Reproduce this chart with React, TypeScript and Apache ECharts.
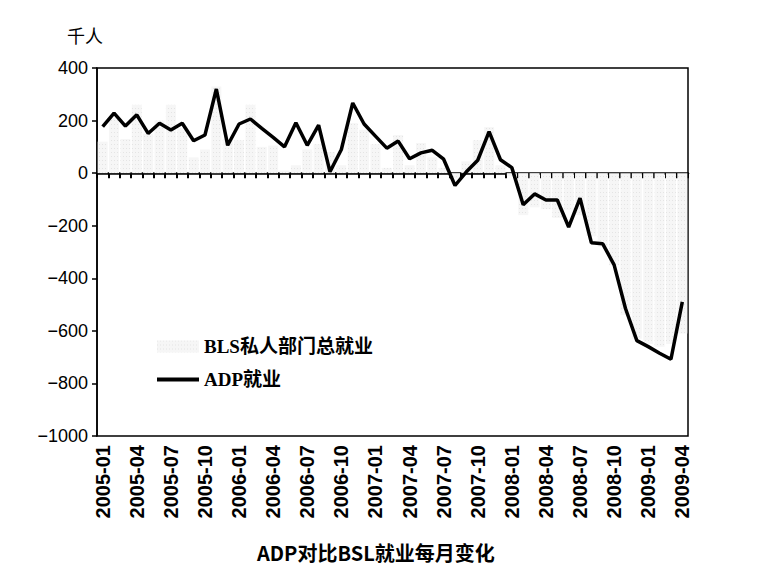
import { useEffect, useRef } from 'react';
import * as echarts from 'echarts';

const months = [
  '2005-01', '2005-02', '2005-03', '2005-04', '2005-05', '2005-06', '2005-07', '2005-08', '2005-09', '2005-10', '2005-11', '2005-12',
  '2006-01', '2006-02', '2006-03', '2006-04', '2006-05', '2006-06', '2006-07', '2006-08', '2006-09', '2006-10', '2006-11', '2006-12',
  '2007-01', '2007-02', '2007-03', '2007-04', '2007-05', '2007-06', '2007-07', '2007-08', '2007-09', '2007-10', '2007-11', '2007-12',
  '2008-01', '2008-02', '2008-03', '2008-04', '2008-05', '2008-06', '2008-07', '2008-08', '2008-09', '2008-10', '2008-11', '2008-12',
  '2009-01', '2009-02', '2009-03', '2009-04',
];

const blsPrivate = [
  120, 210, 130, 260, 150, 200, 260, 170, 60, 90, 330, 130,
  125, 260, 100, 105, 10, 30, 90, 110, 80, 30, 190, 165,
  110, 20, 145, 30, 115, 60, 20, -20, 45, 125, 175, 30,
  -10, -160, -130, -137, -170, -140, -160, -240, -280, -350, -540, -630,
  -650, -660, -650, -610,
];

const adpEmployment = [
  177, 228, 179, 222, 151, 190, 164, 190, 123, 145, 320, 106,
  187, 206, 170, 136, 100, 192, 106, 183, 5, 90, 267, 187,
  141, 95, 122, 55, 77, 87, 53, -47, 5, 49, 158, 51,
  21, -120, -79, -102, -102, -205, -95, -265, -269, -349, -515, -637,
  -660, -685, -708, -490,
];

const yMin = -1000;
const yMax = 400;
const yStep = 200;

const seriesNames = ['BLS私人部门总就业', 'ADP就业'];
const unitLabel = '千人';
const chartTitle = 'ADP对比BSL就业每月变化';

export default function App() {
  const ref = useRef<HTMLDivElement>(null);

  useEffect(() => {
    document.body.style.margin = '0';
    if (!ref.current) return;
    const chart = echarts.init(ref.current, undefined, { renderer: 'svg' });
    const serifFont = '"Liberation Serif", "Noto Sans CJK SC", serif';
    const sansFont = '"Liberation Sans", Arial, sans-serif';
    const narrowFont = '"Liberation Sans Narrow", "Liberation Sans", Arial, sans-serif';
    chart.setOption({
      animation: false,
      backgroundColor: '#fff',
      title: {
        text: chartTitle,
        left: 252,
        top: 537,
        textStyle: {
          fontSize: 20,
          fontWeight: 'bold',
          color: '#000',
          fontFamily: '"Noto Sans CJK SC", sans-serif',
        },
      },
      legend: {
        orient: 'vertical',
        left: 152,
        top: 332,
        itemWidth: 42,
        itemHeight: 12,
        itemGap: 14,
        symbolKeepAspect: true,
        data: [
          { name: seriesNames[0], icon: 'rect' },
          { name: seriesNames[1], icon: 'path://M0,0 L100,0 L100,9 L0,9 Z' },
        ],
        textStyle: {
          fontSize: 19,
          fontWeight: 'bold',
          color: '#000',
          fontFamily: serifFont,
        },
      },
      grid: {
        left: 97,
        right: 96,
        top: 68,
        bottom: 145,
        show: true,
        borderColor: '#000',
        borderWidth: 1.5,
        backgroundColor: 'transparent',
      },
      xAxis: [
        {
          type: 'category',
          data: months,
          position: 'top',
          boundaryGap: true,
          axisLine: { show: true, onZero: true, lineStyle: { color: '#000', width: 2.5 } },
          axisTick: { show: true, inside: true, length: 5, interval: 0, lineStyle: { color: '#000', width: 2 } },
          axisLabel: { show: false },
          splitLine: { show: false },
        },
        {
          type: 'category',
          data: months,
          position: 'bottom',
          boundaryGap: true,
          axisLine: { show: false, onZero: false },
          axisTick: { show: false },
          axisLabel: {
            show: true,
            rotate: 90,
            interval: 2,
            margin: 9,
            fontSize: 20,
            color: '#000',
            fontFamily: narrowFont,
            fontWeight: 'bold',
          },
          splitLine: { show: false },
        },
      ],
      yAxis: {
        type: 'value',
        min: yMin,
        max: yMax,
        interval: yStep,
        name: unitLabel,
        nameLocation: 'end',
        nameGap: 24,
        nameTextStyle: {
          fontSize: 18,
          color: '#000',
          align: 'right',
          padding: [0, -6, 0, 0],
          fontFamily: '"Noto Sans CJK SC", sans-serif',
        },
        axisLine: { show: true, lineStyle: { color: '#000', width: 1.5 } },
        axisTick: { show: true, length: 5, lineStyle: { color: '#000', width: 1.5 } },
        axisLabel: {
          fontSize: 18,
          color: '#000',
          margin: 9,
          fontFamily: sansFont,
          formatter: (v: number) => String(v).replace('-', '\u2212'),
        },
        splitLine: { show: false },
      },
      series: [
        {
          name: seriesNames[0],
          type: 'bar',
          xAxisIndex: 0,
          data: blsPrivate,
          barCategoryGap: '12%',
          itemStyle: {
            color: '#f6f6f6',
            decal: {
              symbol: 'rect',
              symbolSize: 0.6,
              color: 'rgba(0,0,0,0.25)',
              dashArrayX: [1, 2],
              dashArrayY: [1, 3],
              rotation: 0,
            },
          },
          z: 1,
        },
        {
          name: seriesNames[1],
          type: 'line',
          xAxisIndex: 0,
          data: adpEmployment,
          symbol: 'none',
          lineStyle: { color: '#000', width: 3.5 },
          itemStyle: { color: '#000' },
          z: 3,
        },
      ],
    });
    return () => chart.dispose();
  }, []);

  return <div ref={ref} style={{ width: 784, height: 581 }} />;
}
